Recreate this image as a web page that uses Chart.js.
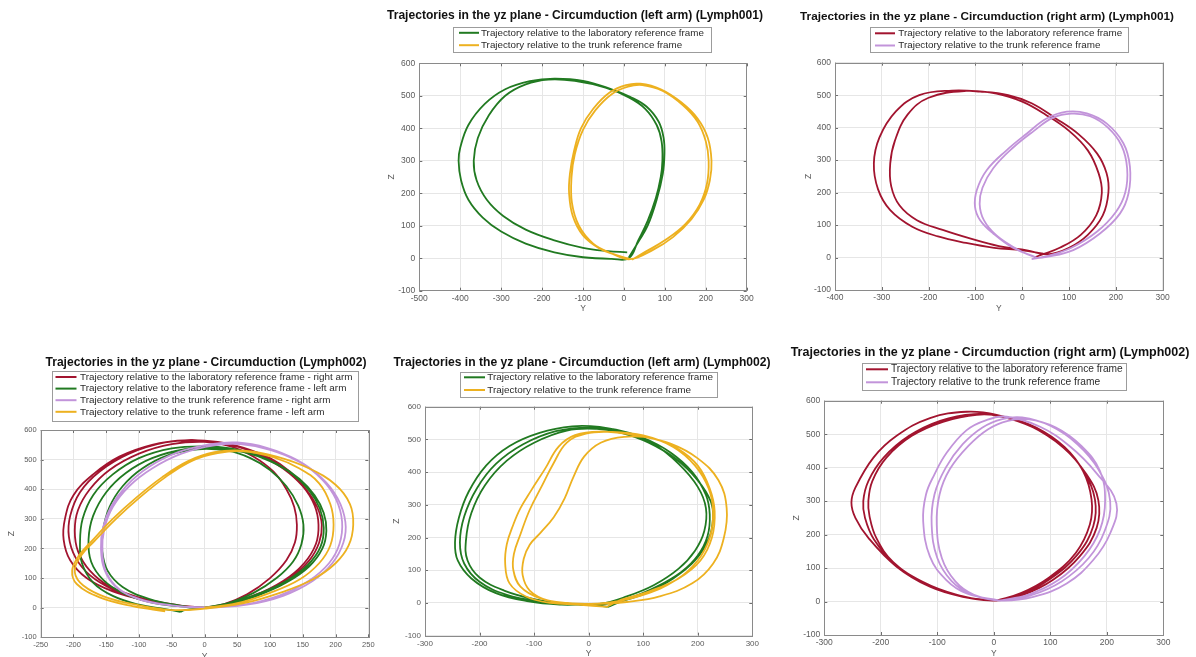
<!DOCTYPE html>
<html><head><meta charset="utf-8">
<script src="https://cdn.jsdelivr.net/npm/chart.js@4.4.1/dist/chart.umd.min.js"></script>
<style>
html,body{margin:0;padding:0;background:#fff;overflow:hidden;}
#fig{position:relative;width:1196px;height:657px;overflow:hidden;background:#fff;}
#fig canvas{position:absolute;}
</style></head><body>
<div id="fig">
<canvas id="p1"></canvas><canvas id="p2"></canvas><canvas id="p3"></canvas><canvas id="p4"></canvas><canvas id="p5"></canvas>
</div>
<script>
// ================= DATA =================
const zTicks = [-100, 0, 100, 200, 300, 400, 500, 600];
const p1YTicks = [-500, -400, -300, -200, -100, 0, 100, 200, 300];
const p2YTicks = [-400, -300, -200, -100, 0, 100, 200, 300];
const p3YTicks = [-250, -200, -150, -100, -50, 0, 50, 100, 150, 200, 250];
const p4YTicks = [-300, -200, -100, 0, 100, 200, 300];
const p5YTicks = [-300, -200, -100, 0, 100, 200, 300];

const titleP1 = 'Trajectories in the yz plane - Circumduction (left arm) (Lymph001)';
const titleP2 = 'Trajectories in the yz plane - Circumduction (right arm) (Lymph001)';
const titleP3 = 'Trajectories in the yz plane - Circumduction (Lymph002)';
const titleP4 = 'Trajectories in the yz plane - Circumduction (left arm) (Lymph002)';
const titleP5 = 'Trajectories in the yz plane - Circumduction (right arm) (Lymph002)';

const labLabel = 'Trajectory relative to the laboratory reference frame';
const trunkLabel = 'Trajectory relative to the trunk reference frame';
const p3Labels = [
  'Trajectory relative to the laboratory reference frame - right arm',
  'Trajectory relative to the laboratory reference frame - left arm',
  'Trajectory relative to the trunk reference frame - right arm',
  'Trajectory relative to the trunk reference frame - left arm'
];

// [Y, Z] samples
const p1Lab = [[12,2],[35,50],[58,100],[80,180],[95,260],[99,320],[97,370],[85,420],[55,467],[15,497],[-30,520],[-100,546],[-170,553],[-230,545],[-290,520],[-340,475],[-380,410],[-400,340],[-404,300],[-398,240],[-380,180],[-345,125],[-300,82],[-240,45],[-170,18],[-100,3],[-30,-2],[12,0],
  [35,55],[58,115],[78,185],[90,250],[94,300],[92,360],[80,410],[52,460],[12,495],[-45,525],[-120,546],[-185,550],[-240,535],[-290,500],[-330,440],[-357,370],[-367,300],[-360,240],[-335,180],[-295,130],[-240,88],[-170,55],[-100,32],[-40,22],[8,18]];
const p1Trunk = [[15,-3],[-20,10],[-60,30],[-100,70],[-125,130],[-134,200],[-132,260],[-122,330],[-105,400],[-75,460],[-35,510],[5,533],[40,537],[90,520],[140,480],[180,430],[205,370],[214,300],[210,240],[195,180],[165,120],[120,65],[70,25],[15,-3],
  [-30,15],[-75,45],[-110,100],[-127,170],[-128,250],[-120,320],[-100,395],[-70,455],[-30,505],[10,528],[45,533],[95,515],[145,470],[180,420],[200,360],[207,300],[203,230],[185,165],[150,105],[100,55],[50,18],[20,-5]];

const p2Lab = [[45,12],[0,22],[-60,30],[-120,45],[-180,65],[-235,95],[-282,146],[-308,210],[-317,290],[-305,370],[-270,450],[-220,500],[-150,514],[-90,511],[-30,500],[20,475],[70,430],[120,380],[160,320],[180,260],[184,200],[172,130],[140,70],[100,30],[55,10],
  [10,22],[-50,35],[-110,58],[-170,85],[-225,115],[-262,160],[-280,220],[-282,290],[-272,360],[-245,440],[-200,492],[-120,513],[-55,505],[0,480],[50,440],[100,390],[140,330],[163,260],[170,200],[158,130],[125,70],[80,30],[40,8],[25,0]];
const p2Trunk = [[30,0],[-20,30],[-62,74],[-90,115],[-101,157],[-97,208],[-76,269],[-33,331],[10,382],[52,428],[95,449],[138,444],[180,413],[216,352],[230,280],[227,198],[209,136],[166,74],[109,23],[52,2],[30,0],
  [-10,25],[-55,68],[-82,115],[-91,165],[-85,215],[-62,275],[-20,338],[25,390],[65,430],[105,443],[145,435],[183,400],[212,345],[224,275],[220,200],[200,140],[160,80],[105,30],[55,5],[20,-5]];

const p3LabRight = [[0,0],[-40,8],[-90,25],[-140,55],[-180,100],[-205,160],[-215,230],[-213,300],[-200,380],[-170,450],[-130,510],[-80,550],[-30,565],[20,560],[60,540],[100,505],[130,460],[155,400],[172,340],[179,280],[175,220],[160,160],[130,100],[85,50],[40,15],[0,0],
  [-45,10],[-95,30],[-140,62],[-175,110],[-197,170],[-207,240],[-205,310],[-190,390],[-160,460],[-115,520],[-60,558],[-10,565],[40,550],[85,515],[120,470],[150,410],[168,345],[174,280],[170,215],[152,150],[120,90],[75,40],[30,10],[0,0],
  [-50,12],[-100,35],[-145,72],[-175,125],[-193,190],[-198,260],[-193,330],[-175,400],[-145,465],[-100,520],[-50,552],[0,560],[40,545],[75,510],[105,460],[125,400],[137,340],[141,280],[138,220],[125,160],[100,100],[65,45],[30,12],[0,0]];
const p3LabLeft = [[-37,-14],[-60,-5],[-100,10],[-140,40],[-170,85],[-187,150],[-190,220],[-186,300],[-170,380],[-140,450],[-100,505],[-50,538],[0,545],[40,538],[80,515],[115,480],[145,435],[168,380],[182,320],[186,260],[180,200],[160,140],[125,85],[80,40],[35,10],[0,0],
  [-40,5],[-85,20],[-125,50],[-155,95],[-173,155],[-177,230],[-170,310],[-150,390],[-120,455],[-80,505],[-30,535],[15,540],[60,525],[100,495],[135,450],[160,395],[176,335],[182,270],[177,205],[158,145],[125,90],[80,45],[35,12],[0,0],
  [-40,8],[-85,30],[-125,70],[-148,125],[-156,190],[-155,260],[-145,340],[-125,410],[-95,470],[-55,515],[-10,535],[35,530],[70,505],[100,465],[125,410],[143,345],[151,280],[148,215],[135,155],[110,100],[75,50],[40,18],[0,0],[-30,-8],[-37,-14]];
const p3TrunkRight = [[0,0],[-50,8],[-100,30],[-135,70],[-153,130],[-158,200],[-155,270],[-143,340],[-120,410],[-85,475],[-40,525],[10,552],[50,558],[95,540],[140,500],[178,440],[203,370],[215,290],[212,220],[195,150],[165,90],[120,40],[65,10],[0,0],
  [-45,6],[-95,25],[-130,62],[-150,120],[-156,190],[-153,265],[-140,340],[-115,410],[-80,470],[-35,520],[15,548],[55,552],[100,533],[145,492],[180,432],[201,365],[210,290],[206,215],[190,150],[160,92],[115,42],[60,10],[0,0]];
const p3TrunkLeft = [[-60,-12],[-110,5],[-160,35],[-195,80],[-202,125],[-192,175],[-170,230],[-140,300],[-105,370],[-65,440],[-25,495],[15,525],[60,530],[110,510],[160,470],[200,415],[222,350],[227,280],[220,210],[200,150],[165,95],[115,50],[60,15],[0,-3],
  [-50,-8],[-100,8],[-150,35],[-185,75],[-198,120],[-190,170],[-168,225],[-135,300],[-100,370],[-60,440],[-20,495],[20,522],[60,528],[105,508],[145,470],[175,420],[192,350],[197,280],[192,210],[175,150],[145,95],[100,50],[50,15],[0,0]];

const p4Lab = [[35,-12],[0,-5],[-50,-5],[-110,5],[-170,30],[-215,75],[-240,130],[-245,185],[-238,260],[-220,340],[-188,420],[-145,480],[-90,520],[-30,540],[20,538],[70,520],[120,485],[165,425],[200,355],[215,290],[212,220],[195,160],[165,105],[120,55],[70,20],[20,-3],
  [-30,-3],[-90,5],[-150,25],[-200,65],[-228,120],[-236,185],[-228,265],[-205,350],[-170,425],[-120,485],[-60,525],[0,537],[50,530],[100,505],[150,460],[190,400],[215,330],[222,270],[218,205],[200,145],[170,95],[125,50],[75,15],[20,-5],
  [-40,-2],[-100,12],[-155,38],[-200,78],[-222,130],[-225,190],[-215,275],[-190,360],[-150,435],[-100,490],[-40,527],[15,532],[60,520],[110,490],[160,440],[200,375],[224,310],[228,260],[220,195],[195,130],[155,75],[105,30],[60,5],[35,-12]];
const p4Trunk = [[35,-12],[-20,-5],[-70,0],[-115,20],[-145,60],[-153,120],[-150,180],[-138,240],[-125,290],[-105,345],[-80,410],[-55,478],[-25,513],[20,524],[90,512],[150,487],[200,442],[238,375],[253,290],[248,200],[228,120],[190,60],[130,20],[70,3],[20,-3],
  [-40,0],[-90,15],[-125,50],[-138,100],[-137,150],[-125,210],[-108,285],[-85,360],[-65,425],[-40,490],[-5,518],[40,523],[100,512],[155,477],[195,420],[220,350],[228,280],[222,200],[200,130],[160,70],[100,25],[40,2],
  [-20,-3],[-75,8],[-108,38],[-121,85],[-119,135],[-108,178],[-88,215],[-64,262],[-44,320],[-28,385],[-8,448],[22,490],[65,508],[120,502],[165,470],[200,420],[222,350],[231,280],[226,200],[205,130],[165,75],[110,35],[60,10],[35,-10]];

const p5Lab = [[0,3],[-55,14],[-113,44],[-172,104],[-222,190],[-245,250],[-252,295],[-245,340],[-213,430],[-172,495],[-113,548],[-48,567],[5,558],[64,525],[123,460],[164,380],[185,303],[182,220],[152,135],[105,65],[52,20],[0,3],
  [-60,18],[-120,52],[-175,112],[-212,185],[-228,250],[-231,300],[-222,360],[-195,430],[-150,495],[-95,540],[-35,560],[15,552],[70,520],[125,460],[160,385],[179,305],[176,225],[148,140],[100,68],[50,22],[0,3],
  [-65,20],[-125,58],[-178,118],[-208,190],[-220,255],[-222,300],[-215,360],[-190,430],[-145,495],[-90,537],[-30,558],[20,552],[75,520],[125,462],[158,390],[173,305],[170,230],[145,145],[98,72],[48,25],[5,3]];
const p5Trunk = [[10,3],[-48,24],[-84,64],[-113,134],[-125,240],[-120,320],[-105,380],[-84,443],[-48,512],[-13,542],[23,552],[82,522],[135,463],[182,383],[217,293],[206,204],[176,124],[129,54],[70,14],[10,3],
  [-40,22],[-75,62],[-100,130],[-110,230],[-105,320],[-85,400],[-55,470],[-20,520],[15,545],[50,550],[100,525],[148,470],[185,395],[206,300],[196,210],[168,130],[120,60],[65,18],[15,3],
  [-35,20],[-68,60],[-92,130],[-101,230],[-96,320],[-78,395],[-45,465],[-10,515],[25,540],[60,545],[110,520],[155,465],[188,390],[197,300],[188,215],[160,135],[115,65],[60,20],[10,3]];

// ================= STYLE / LAYOUT =================
const FONT = '"Liberation Sans", Arial, Helvetica, sans-serif';
const C = { green:'#217a21', orange:'#EDB120', red:'#A2142F', purple:'#C294DA' };

const panels = [
  { id:'p1', canvas:[380,0,400,320], plot:[419.3,63.3,746.7,290.7], zLabelX:392, yLabelY:309, tick:8.5,
    title:titleP1, tcx:575, tcy:16, tw:376,
    legend:{box:[453,26.7,711,51.7], s0:459, s1:479, tx:481, rows:[32.8,45.2], w:223},
    xTicks:p1YTicks,
    series:[{label:labLabel, pts:p1Lab, color:C.green},{label:trunkLabel, pts:p1Trunk, color:C.orange}] },
  { id:'p2', canvas:[780,0,416,320], plot:[835,62.7,1162.7,290], zLabelX:809, yLabelY:308.5, tick:8.5,
    title:titleP2, tcx:987, tcy:17, tw:374,
    legend:{box:[870,26.7,1127.7,51.7], s0:875, s1:895, tx:898.3, rows:[33.3,45.5], w:224},
    xTicks:p2YTicks,
    series:[{label:labLabel, pts:p2Lab, color:C.red},{label:trunkLabel, pts:p2Trunk, color:C.purple}] },
  { id:'p3', canvas:[0,330,380,340], plot:[40.7,430,368.3,637.3], zLabelX:11.7, yLabelY:656.5, tick:7.5,
    title:titleP3, tcx:206, tcy:363, tw:321,
    legend:{box:[51.7,371,357.5,421], s0:55.5, s1:76.5, tx:80, rows:[377,388.6,400.2,411.8], w:273},
    xTicks:p3YTicks,
    series:[{label:p3Labels[0], pts:p3LabRight, color:C.red},{label:p3Labels[1], pts:p3LabLeft, color:C.green},
            {label:p3Labels[2], pts:p3TrunkRight, color:C.purple},{label:p3Labels[3], pts:p3TrunkLeft, color:C.orange}] },
  { id:'p4', canvas:[380,330,400,340], plot:[425,406.7,752.3,635.7], zLabelX:396.7, yLabelY:653.5, tick:8,
    title:titleP4, tcx:582, tcy:363, tw:377,
    legend:{box:[460,371.7,716.7,397], s0:464, s1:485, tx:487.3, rows:[377.3,390], w:226},
    xTicks:p4YTicks,
    series:[{label:labLabel, pts:p4Lab, color:C.green},{label:trunkLabel, pts:p4Trunk, color:C.orange}] },
  { id:'p5', canvas:[780,330,416,340], plot:[824.3,400.7,1163.3,635], zLabelX:796.7, yLabelY:653.5, tick:8.5,
    title:titleP5, tcx:990, tcy:353, tw:399,
    legend:{box:[862.3,362.7,1126.7,389.3], s0:866, s1:888, tx:891, rows:[369.3,382.3], w:232},
    xTicks:p5YTicks,
    series:[{label:labLabel, pts:p5Lab, color:C.red},{label:trunkLabel, pts:p5Trunk, color:C.purple}] }
];

function fitSize(ctx, text, target, weight) {
  ctx.font = weight + ' 10px ' + FONT;
  return 10 * target / ctx.measureText(text).width;
}

const matlabPlugin = {
  id: 'matlabDecor',
  afterDraw(chart, args, o) {
    const ctx = chart.ctx, a = chart.chartArea, P = o.panel;
    const ox = P.canvas[0], oy = P.canvas[1];
    ctx.save();
    // inward tick marks
    ctx.strokeStyle = '#6e6e6e'; ctx.lineWidth = 1;
    const xs = chart.scales.x, ys = chart.scales.y;
    ctx.beginPath();
    xs.ticks.forEach(t => { const px = Math.round(xs.getPixelForValue(t.value)) + 0.5;
      ctx.moveTo(px, a.bottom); ctx.lineTo(px, a.bottom - 3); ctx.moveTo(px, a.top); ctx.lineTo(px, a.top + 3); });
    ys.ticks.forEach(t => { const py = Math.round(ys.getPixelForValue(t.value)) + 0.5;
      ctx.moveTo(a.left, py); ctx.lineTo(a.left + 3, py); ctx.moveTo(a.right, py); ctx.lineTo(a.right - 3, py); });
    ctx.stroke();
    // axes box
    ctx.strokeStyle = '#8a8a8a';
    ctx.strokeRect(Math.round(a.left) + 0.5, Math.round(a.top) + 0.5, Math.round(a.right - a.left), Math.round(a.bottom - a.top));
    // title
    const ts = fitSize(ctx, P.title, P.tw, 'bold');
    ctx.font = 'bold ' + ts.toFixed(2) + 'px ' + FONT;
    ctx.fillStyle = '#111'; ctx.textAlign = 'center'; ctx.textBaseline = 'middle';
    ctx.fillText(P.title, P.tcx - ox, P.tcy - oy);
    // legend
    const L = P.legend;
    const longest = P.series.map(s => s.label).reduce((m, s) => s.length > m.length ? s : m, '');
    const ls = fitSize(ctx, longest, L.w, 'normal');
    const bx = Math.round(L.box[0] - ox) + 0.5, by = Math.round(L.box[1] - oy) + 0.5;
    const bw = Math.round(L.box[2] - L.box[0]), bh = Math.round(L.box[3] - L.box[1]);
    ctx.fillStyle = '#fff'; ctx.fillRect(bx, by, bw, bh);
    ctx.strokeStyle = '#9c9c9c'; ctx.lineWidth = 1; ctx.strokeRect(bx, by, bw, bh);
    ctx.font = ls.toFixed(2) + 'px ' + FONT; ctx.textAlign = 'left'; ctx.textBaseline = 'middle';
    chart.data.datasets.forEach((d, i) => {
      const ry = L.rows[i] - oy;
      ctx.strokeStyle = d.borderColor; ctx.lineWidth = 2;
      ctx.beginPath(); ctx.moveTo(L.s0 - ox, ry); ctx.lineTo(L.s1 - ox, ry); ctx.stroke();
      ctx.fillStyle = '#2b2b2b'; ctx.fillText(d.label, L.tx - ox, ry);
    });
    ctx.restore();
  }
};

panels.forEach(P => {
  const [cx, cy, cw, ch] = P.canvas;
  const [pl, pt, pr, pb] = P.plot;
  const cv = document.getElementById(P.id);
  cv.width = cw; cv.height = ch;
  cv.style.left = cx + 'px'; cv.style.top = cy + 'px';
  cv.style.width = cw + 'px'; cv.style.height = ch + 'px';
  const lh = 8.5 * 1.2;
  const W = pl - P.zLabelX + lh / 2;
  const H = P.yLabelY - pb + lh / 2;
  const pad = { left: pl - cx - W, top: pt - cy, right: cx + cw - pr, bottom: cy + ch - pb - H };
  const n = P.series.length;
  const tickFont = { family: FONT, size: P.tick };
  new Chart(cv, {
    type: 'scatter',
    data: { datasets: P.series.map((s, i) => ({
      label: s.label,
      data: s.pts.map(p => ({ x: p[0], y: p[1] })),
      showLine: true, borderColor: s.color, backgroundColor: s.color,
      borderWidth: 1.8, pointRadius: 0, pointHoverRadius: 0, tension: 0.4, fill: false,
      order: n - 1 - i
    })) },
    options: {
      responsive: false, animation: false, devicePixelRatio: 1, events: [],
      layout: { autoPadding: false, padding: pad },
      plugins: { legend: { display: false }, tooltip: { enabled: false }, title: { display: false },
                 matlabDecor: { panel: P } },
      scales: {
        x: { type: 'linear', min: P.xTicks[0], max: P.xTicks[P.xTicks.length - 1],
             afterBuildTicks: s => { s.ticks = P.xTicks.map(v => ({ value: v })); },
             afterFit: s => { s.height = H; },
             grid: { color: '#e6e6e6', drawTicks: false, lineWidth: 1 }, border: { display: false },
             ticks: { color: '#5a5a5a', font: tickFont, padding: 3, maxRotation: 0, autoSkip: false },
             title: { display: true, text: 'Y', color: '#5a5a5a', font: { family: FONT, size: 8.5 }, padding: 0 } },
        y: { type: 'linear', min: zTicks[0], max: zTicks[zTicks.length - 1],
             afterBuildTicks: s => { s.ticks = zTicks.map(v => ({ value: v })); },
             afterFit: s => { s.width = W; },
             grid: { color: '#e6e6e6', drawTicks: false, lineWidth: 1 }, border: { display: false },
             ticks: { color: '#5a5a5a', font: tickFont, padding: 4, autoSkip: false },
             title: { display: true, text: 'Z', color: '#5a5a5a', font: { family: FONT, size: 8.5 }, padding: 0 } }
      }
    },
    plugins: [matlabPlugin]
  });
});
</script>
</body></html>
